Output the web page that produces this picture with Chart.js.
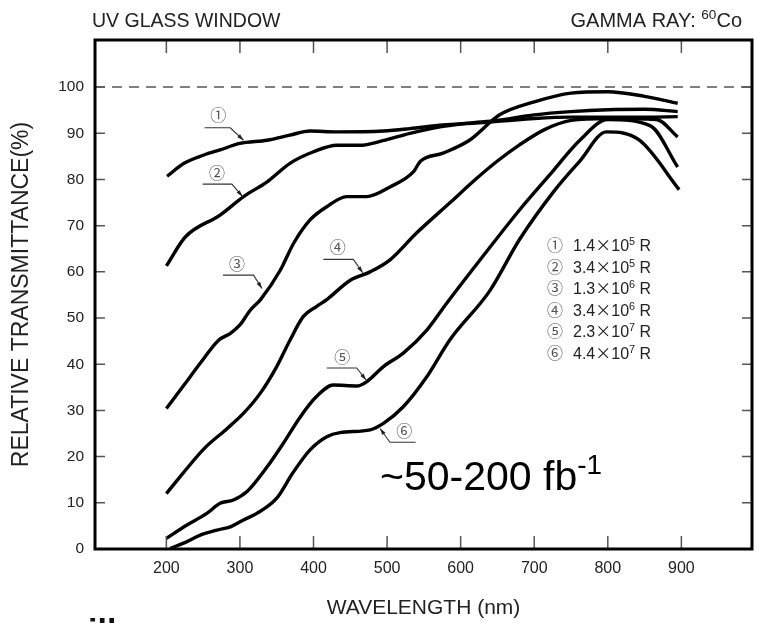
<!DOCTYPE html>
<html>
<head>
<meta charset="utf-8">
<script src="https://cdn.jsdelivr.net/npm/chart.js@4/dist/chart.umd.min.js"></script>
<style>
  html, body { margin: 0; padding: 0; background: #fff; }
  #wrap { position: relative; width: 759px; height: 623px; }
</style>
</head>
<body>
<div id="wrap"><canvas id="uvChart" width="759" height="623"></canvas></div>
<script>
// tick values
const xTicks = [200, 300, 400, 500, 600, 700, 800, 900];
const yTicks = [0, 10, 20, 30, 40, 50, 60, 70, 80, 90, 100];

// curve 1 : 1.4x10^5 R
const wl1 = [201, 224, 251, 273, 300, 337, 368, 395, 432, 495, 531, 576, 620, 660, 700, 750, 800, 850, 895];
const tr1 = [80.7, 83.5, 85.3, 86.4, 87.8, 88.5, 89.6, 90.5, 90.3, 90.5, 91.0, 91.8, 92.2, 92.7, 93.2, 93.5, 93.5, 93.5, 93.6];
// curve 2 : 3.4x10^5 R
const wl2 = [200, 226, 273, 305, 337, 368, 400, 432, 463, 494, 531, 572, 610, 650, 700, 750, 800, 850, 895];
const tr2 = [61.3, 67.6, 72.3, 76.3, 79.5, 83.5, 86.0, 87.4, 87.4, 88.4, 90.0, 91.4, 92.2, 92.8, 94.0, 94.7, 95.1, 95.2, 94.7];
// curve 3 : 1.3x10^6 R
const wl3 = [200, 224, 246, 271, 287, 300, 314, 328, 355, 373, 395, 418, 445, 472, 504, 536, 545, 576, 612, 653, 700, 750, 800, 850, 895];
const tr3 = [30.4, 35.5, 40.2, 45.2, 46.7, 48.5, 51.7, 54.0, 60.4, 66.2, 71.2, 74.1, 76.3, 76.3, 78.4, 81.7, 83.9, 85.7, 88.5, 94.0, 96.8, 98.7, 99.0, 98.0, 96.5];
// curve 4 : 3.4x10^6 R
const wl4 = [200, 223, 253, 282, 305, 328, 350, 368, 386, 404, 418, 450, 477, 504, 540, 585, 620, 650, 680, 714, 750, 800, 866, 895];
const tr4 = [12.0, 16.5, 22.0, 26.0, 29.4, 33.8, 39.5, 45.2, 50.3, 52.5, 54.0, 58.2, 60.0, 62.6, 68.4, 74.9, 80.0, 84.0, 87.5, 90.8, 92.8, 93.2, 93.0, 89.2];
// curve 5 : 2.3x10^7 R
const wl5 = [200, 228, 255, 273, 291, 310, 337, 359, 382, 404, 427, 459, 472, 495, 522, 554, 581, 626, 680, 721, 762, 800, 858, 895];
const tr5 = [2.3, 5.2, 7.7, 9.9, 10.6, 12.5, 17.8, 22.9, 28.6, 33.0, 35.5, 35.3, 36.2, 39.5, 42.4, 47.4, 53.2, 62.5, 73.4, 81.0, 88.5, 93.0, 91.6, 82.7];
// curve 6 : 4.4x10^7 R
const wl6 = [205, 228, 246, 269, 287, 305, 323, 350, 372, 395, 418, 436, 477, 495, 522, 554, 585, 640, 680, 728, 762, 798, 843, 897];
const tr6 = [0.1, 1.6, 3.0, 4.1, 4.8, 6.3, 7.7, 11.0, 16.5, 21.4, 24.3, 25.2, 25.8, 27.2, 30.8, 37.3, 45.2, 56.0, 67.0, 77.7, 84.0, 90.3, 88.5, 77.8];

// legend text: |..| = CJK font (wide ×), ^..^ = superscript
const doseLabels = ['1.4|×|10^5^ R', '3.4|×|10^5^ R', '1.3|×|10^6^ R', '3.4|×|10^6^ R', '2.3|×|10^7^ R', '4.4|×|10^7^ R'];
const circled = ['①', '②', '③', '④', '⑤', '⑥'];

const wls = [wl1, wl2, wl3, wl4, wl5, wl6];
const trs = [tr1, tr2, tr3, tr4, tr5, tr6];

// curve callouts in data units: number position, leader start, corner, arrow tip
const callouts = [
  { n: [270.6, 93.9], a: [252, 91.2], b: [286.8, 91.2], tip: [304.9, 88.5] },
  { n: [268.8, 81.5], a: [249.3, 79.0], b: [289.1, 79.0], tip: [303.5, 76.3] },
  { n: [295.9, 61.8], a: [276.9, 59.3], b: [318.5, 59.3], tip: [329.9, 56.4] },
  { n: [433.0, 65.4], a: [413.4, 62.7], b: [454.1, 62.7], tip: [466.9, 59.8] },
  { n: [439.2, 41.6], a: [418.0, 39.2], b: [458.7, 39.2], tip: [471.4, 36.6] },
  { n: [523.3, 25.6], a: [538.8, 23.1], b: [503.9, 23.1], tip: [490.4, 26.1] }
];

const FONT = 'Arial, "Liberation Sans", sans-serif';
const CJK = '"Noto Sans CJK JP", "DejaVu Sans", sans-serif';

const datasets = [{
  label: 'ref100',
  data: [{ x: 103, y: 100 }, { x: 996, y: 100 }],
  borderColor: '#555',
  borderWidth: 1.5,
  borderDash: [10, 7],
  pointRadius: 0,
  fill: false
}];
for (let i = 0; i < 6; i++) {
  datasets.push({
    label: 'curve ' + (i + 1),
    data: wls[i].map((w, k) => ({ x: w, y: trs[i][k] })),
    borderColor: '#000',
    borderWidth: 3.4,
    pointRadius: 0,
    fill: false,
    cubicInterpolationMode: 'monotone'
  });
}

// split a label into runs: n = normal, s = superscript, c = CJK font
function runs(str) {
  const out = [];
  let mode = 'n', buf = '';
  for (const ch of str) {
    if (ch === '^' || ch === '|') {
      if (buf) out.push([buf, mode]);
      buf = '';
      const m = ch === '^' ? 's' : 'c';
      mode = mode === m ? 'n' : m;
    } else buf += ch;
  }
  if (buf) out.push([buf, mode]);
  return out;
}
function setFont(ctx, mode, size) {
  if (mode === 's') ctx.font = (size * 0.68) + 'px ' + FONT;
  else if (mode === 'c') ctx.font = size + 'px ' + CJK;
  else ctx.font = size + 'px ' + FONT;
}
function richWidth(ctx, str, size) {
  let w = 0;
  runs(str).forEach(([t, m]) => { setFont(ctx, m, size); w += ctx.measureText(t).width; });
  return w;
}
function drawRich(ctx, str, x, y, size, color) {
  ctx.fillStyle = color;
  ctx.textBaseline = 'alphabetic';
  ctx.textAlign = 'left';
  let cx = x;
  runs(str).forEach(([t, m]) => {
    setFont(ctx, m, size);
    ctx.fillText(t, cx, m === 's' ? y - size * 0.38 : y);
    cx += ctx.measureText(t).width;
  });
}

const framePlugin = {
  id: 'framePlugin',
  afterDatasetsDraw(chart) {
    const { ctx, chartArea: a, scales: { x, y } } = chart;
    ctx.save();
    // inward tick marks on all four sides
    ctx.strokeStyle = '#555';
    ctx.lineWidth = 1.5;
    ctx.beginPath();
    xTicks.forEach(v => {
      const px = x.getPixelForValue(v);
      ctx.moveTo(px, a.bottom); ctx.lineTo(px, a.bottom - 13);
      ctx.moveTo(px, a.top); ctx.lineTo(px, a.top + 13);
    });
    yTicks.forEach(v => {
      if (v === 0) return;
      const py = y.getPixelForValue(v);
      ctx.moveTo(a.left, py); ctx.lineTo(a.left + 10, py);
      ctx.moveTo(a.right, py); ctx.lineTo(a.right - 10, py);
    });
    ctx.stroke();
    // frame
    ctx.strokeStyle = '#000';
    ctx.lineWidth = 3;
    ctx.strokeRect(a.left, a.top, a.right - a.left, a.bottom - a.top);

    // callouts
    callouts.forEach((c, i) => {
      const ax = x.getPixelForValue(c.a[0]), ay = y.getPixelForValue(c.a[1]);
      const bx = x.getPixelForValue(c.b[0]), by = y.getPixelForValue(c.b[1]);
      const tx = x.getPixelForValue(c.tip[0]), ty = y.getPixelForValue(c.tip[1]);
      ctx.strokeStyle = '#333';
      ctx.lineWidth = 1.1;
      ctx.beginPath();
      ctx.moveTo(ax, ay); ctx.lineTo(bx, by); ctx.lineTo(tx, ty);
      ctx.stroke();
      const ang = Math.atan2(ty - by, tx - bx);
      ctx.fillStyle = '#222';
      ctx.beginPath();
      ctx.moveTo(tx, ty);
      ctx.lineTo(tx - 7 * Math.cos(ang - 0.3), ty - 7 * Math.sin(ang - 0.3));
      ctx.lineTo(tx - 7 * Math.cos(ang + 0.3), ty - 7 * Math.sin(ang + 0.3));
      ctx.closePath();
      ctx.fill();
      ctx.font = '16px ' + CJK;
      ctx.fillStyle = '#555';
      ctx.textAlign = 'center';
      ctx.textBaseline = 'middle';
      ctx.fillText(circled[i], x.getPixelForValue(c.n[0]), y.getPixelForValue(c.n[1]));
    });

    // dose legend
    doseLabels.forEach((lab, i) => {
      const ry = 245 + i * 21.6;
      ctx.font = '16px ' + CJK;
      ctx.fillStyle = '#555';
      ctx.textAlign = 'center';
      ctx.textBaseline = 'middle';
      ctx.fillText(circled[i], 555, ry);
      drawRich(ctx, lab, 573, ry + 6, 16, '#222');
    });

    // header texts
    ctx.font = '19.5px ' + FONT;
    ctx.fillStyle = '#222';
    ctx.textAlign = 'left';
    ctx.textBaseline = 'alphabetic';
    ctx.fillText('UV GLASS WINDOW', 92, 27);
    const g = 'GAMMA RAY: ^60^Co';
    drawRich(ctx, g, 742 - richWidth(ctx, g, 20), 27, 20, '#222');

    // annotation
    drawRich(ctx, '~50-200 fb^-1^', 380, 490, 41, '#000');

    // clipped text at the bottom edge
    ctx.font = 'bold 34px ' + FONT;
    ctx.fillStyle = '#111';
    ctx.fillText('ill', 88, 642);
    ctx.restore();
  }
};

new Chart(document.getElementById('uvChart'), {
  type: 'line',
  data: { datasets: datasets },
  options: {
    responsive: false,
    animation: false,
    devicePixelRatio: 1,
    layout: { padding: { left: 0, right: 7, top: 40, bottom: 0 } },
    plugins: { legend: { display: false }, tooltip: { enabled: false } },
    scales: {
      x: {
        type: 'linear',
        min: 103,
        max: 996,
        afterBuildTicks: s => { s.ticks = xTicks.map(v => ({ value: v })); },
        afterFit: s => { s.height = 74; },
        grid: { display: false, drawTicks: false },
        border: { display: false },
        ticks: { font: { size: 16, family: FONT }, color: '#222', padding: 10, maxRotation: 0 },
        title: { display: true, text: 'WAVELENGTH (nm)', font: { size: 21, family: FONT }, color: '#222', padding: { top: 0, bottom: 2 } }
      },
      y: {
        min: 0,
        max: 110.2,
        afterBuildTicks: s => { s.ticks = yTicks.map(v => ({ value: v })); },
        afterFit: s => { s.width = 95; },
        grid: { display: false, drawTicks: false },
        border: { display: false },
        ticks: { font: { size: 15.5, family: FONT }, color: '#222', padding: 11 },
        title: { display: true, text: 'RELATIVE TRANSMITTANCE(%)', font: { size: 23, family: FONT }, color: '#222', padding: { top: 8, bottom: 0 } }
      }
    }
  },
  plugins: [framePlugin]
});
</script>
</body>
</html>
